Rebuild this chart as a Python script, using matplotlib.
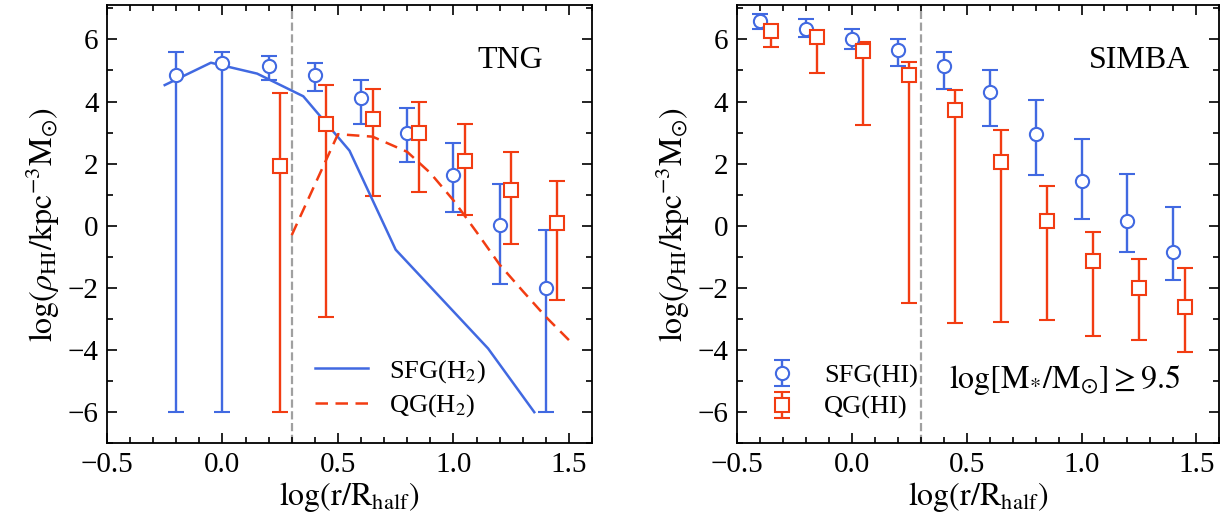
import numpy as np
import matplotlib
matplotlib.use("Agg")
import matplotlib.pyplot as plt
from matplotlib.ticker import MultipleLocator

plt.rcParams['font.family'] = 'serif'
plt.rcParams['font.serif'] = ['Liberation Serif', 'DejaVu Serif']
plt.rcParams['mathtext.fontset'] = 'stix'

BLUE = '#4169e1'
RED = '#f23c12'

# TNG panel: points (value, lower end, upper end)
tng_sfg_x = [-0.2, 0.0, 0.2, 0.4, 0.6, 0.8, 1.0, 1.2, 1.4]
tng_sfg_y = [4.84, 5.25, 5.14, 4.84, 4.10, 2.99, 1.63, 0.03, -2.01]
tng_sfg_lo = [-6.0, -6.0, 4.71, 4.33, 3.29, 2.04, 0.43, -1.88, -6.0]
tng_sfg_hi = [5.60, 5.59, 5.48, 5.23, 4.68, 3.80, 2.65, 1.33, -0.15]

tng_qg_x = [0.25, 0.45, 0.65, 0.85, 1.05, 1.25, 1.45]
tng_qg_y = [1.94, 3.28, 3.45, 2.99, 2.10, 1.14, 0.09]
tng_qg_lo = [-6.0, -2.93, 0.97, 1.09, 0.35, -0.59, -2.39]
tng_qg_hi = [4.28, 4.52, 4.39, 3.99, 3.29, 2.37, 1.43]

# TNG H2 profiles
h2_sfg_x = [-0.25, -0.05, 0.15, 0.35, 0.55, 0.75, 0.95, 1.15, 1.35]
h2_sfg_y = [4.53, 5.25, 4.90, 4.17, 2.42, -0.77, -2.36, -3.95, -6.0]
h2_qg_x = [0.30, 0.50, 0.65, 0.80, 0.90, 1.00, 1.10, 1.20, 1.30, 1.40, 1.50]
h2_qg_y = [-0.30, 2.95, 2.87, 2.38, 1.70, 0.82, -0.20, -1.25, -2.10, -2.93, -3.68]

# SIMBA panel
sim_sfg_x = [-0.4, -0.2, 0.0, 0.2, 0.4, 0.6, 0.8, 1.0, 1.2, 1.4]
sim_sfg_y = [6.59, 6.35, 6.02, 5.66, 5.16, 4.30, 2.94, 1.44, 0.17, -0.83]
sim_sfg_lo = [6.34, 6.09, 5.68, 5.16, 4.41, 3.20, 1.62, 0.23, -0.83, -1.74]
sim_sfg_hi = [6.81, 6.65, 6.34, 6.00, 5.59, 5.00, 4.04, 2.80, 1.68, 0.60]

sim_qg_x = [-0.35, -0.15, 0.05, 0.25, 0.45, 0.65, 0.85, 1.05, 1.25, 1.45]
sim_qg_y = [6.27, 6.07, 5.62, 4.87, 3.74, 2.05, 0.14, -1.13, -2.01, -2.60]
sim_qg_lo = [5.75, 4.93, 3.26, -2.49, -3.12, -3.09, -3.03, -3.55, -3.68, -4.05]
sim_qg_hi = [6.48, 6.27, 5.91, 5.28, 4.37, 3.10, 1.29, -0.20, -1.06, -1.37]


def err(y, lo, hi):
    y = np.array(y)
    return [y - np.array(lo), np.array(hi) - y]


def style_axes(ax):
    ax.set_xlim(-0.5, 1.6)
    ax.set_ylim(-7, 7.1)
    ax.xaxis.set_major_locator(MultipleLocator(0.5))
    ax.xaxis.set_minor_locator(MultipleLocator(0.1))
    ax.yaxis.set_major_locator(MultipleLocator(2))
    ax.yaxis.set_minor_locator(MultipleLocator(1))
    ax.tick_params(which='both', direction='in', top=True, right=True,
                   labelsize=21, width=1.2)
    ax.tick_params(which='major', length=7, pad=6)
    ax.tick_params(which='minor', length=4)
    for s in ax.spines.values():
        s.set_linewidth(1.3)
    ax.axvline(0.3, color='#a0a0a0', ls='--', lw=1.6, zorder=0)
    ax.set_xlabel(r'$\log({\rm r/R_{half}})$', fontsize=23, labelpad=2)
    ax.set_ylabel(r'$\log(\rho_{\rm HI}/{\rm kpc^{-3}M_{\odot}})$', fontsize=23, labelpad=4)


ebkw = dict(ls='none', capsize=6, elinewidth=1.7, capthick=1.7,
            markersize=9.5, markerfacecolor='white', markeredgewidth=1.5)

fig = plt.figure(figsize=(12.28, 5.27), dpi=100)
ax1 = fig.add_axes([0.0871, 0.159, 0.395, 0.831])
ax2 = fig.add_axes([0.600, 0.159, 0.393, 0.831])

# left: TNG
ax1.errorbar(tng_sfg_x, tng_sfg_y, yerr=err(tng_sfg_y, tng_sfg_lo, tng_sfg_hi),
             marker='o', color=BLUE, **ebkw)
ax1.errorbar(tng_qg_x, tng_qg_y, yerr=err(tng_qg_y, tng_qg_lo, tng_qg_hi),
             marker='s', color=RED, **ebkw)
l1, = ax1.plot(h2_sfg_x, h2_sfg_y, color=BLUE, lw=1.8, label=r'SFG(H$_2$)')
l2, = ax1.plot(h2_qg_x, h2_qg_y, color=RED, lw=1.8, ls=(0, (5, 3)), label=r'QG(H$_2$)')
ax1.legend(handles=[l1, l2], loc='lower left', bbox_to_anchor=(0.38, 0.0),
           frameon=False, fontsize=19, handlelength=2.0, handletextpad=0.8,
           labelspacing=0.3)
ax1.text(0.90, 0.875, 'TNG', transform=ax1.transAxes, ha='right', va='center', fontsize=23)
style_axes(ax1)

# right: SIMBA
e1 = ax2.errorbar(sim_sfg_x, sim_sfg_y, yerr=err(sim_sfg_y, sim_sfg_lo, sim_sfg_hi),
                  marker='o', color=BLUE, label='SFG(HI)', **ebkw)
e2 = ax2.errorbar(sim_qg_x, sim_qg_y, yerr=err(sim_qg_y, sim_qg_lo, sim_qg_hi),
                  marker='s', color=RED, label='QG(HI)', **ebkw)
ax2.legend(handles=[e1, e2], loc='lower left', bbox_to_anchor=(0.0, 0.0),
           frameon=False, fontsize=19, handlelength=1.6, labelspacing=0.3)
ax2.text(0.94, 0.875, 'SIMBA', transform=ax2.transAxes, ha='right', va='center', fontsize=23)
ax2.text(0.68, 0.145, r'$\log[{\rm M_{*}/M_{\odot}}]\geq 9.5$', transform=ax2.transAxes,
         ha='center', va='center', fontsize=23)
style_axes(ax2)

fig.savefig('out.png', dpi=100)
